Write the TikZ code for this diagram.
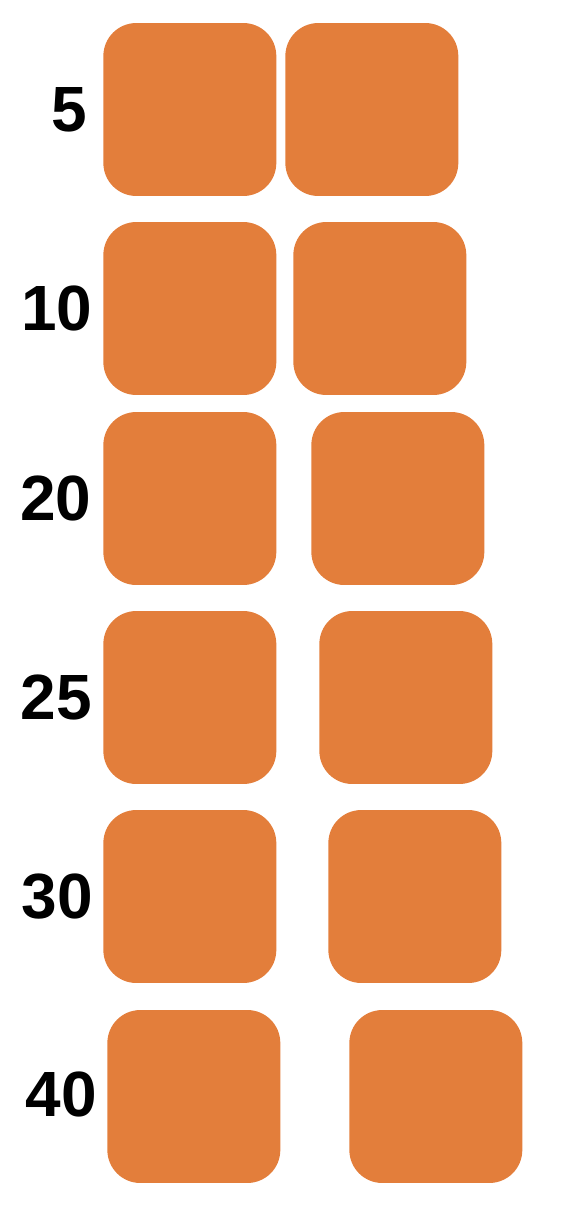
\documentclass[tikz,border=0pt]{standalone}
\usepackage{fontspec}
\setmainfont{Liberation Sans}
\usepackage{tikz}
\definecolor{tileorange}{HTML}{E37E3B}

\begin{document}
\begin{tikzpicture}[x=0.02cm,y=-0.02cm,
    tile/.style={fill=tileorange,draw=none,rounded corners=0.66cm,
      minimum width=3.46cm,minimum height=3.46cm,inner sep=0pt,anchor=west},
    lab/.style={font=\bfseries\fontsize{36.4pt}{40pt}\selectfont,inner sep=0pt}]
    \useasboundingbox (0,0) rectangle (570,1218);

    % First column: the tiles stay nearly in place.
    \node[tile] (a5)  at (103, 109.5) {};
    \node[tile] (a10) at (103, 308.5) {};
    \node[tile] (a20) at (103, 498.5) {};
    \node[tile] (a25) at (103, 697.5) {};
    \node[tile] (a30) at (103, 896.5) {};
    \node[tile] (a40) at (107,1096.5) {};

    % Second column: the gap widens row by row.
    \node[tile] (b5)  at (285, 109.5) {};
    \node[tile] (b10) at (293, 308.5) {};
    \node[tile] (b20) at (311, 498.5) {};
    \node[tile] (b25) at (319, 697.5) {};
    \node[tile] (b30) at (328, 896.5) {};
    \node[tile] (b40) at (349,1096.5) {};

    % Row labels.
    \node[lab] (l5)  at (69.0, 109.5) {5};
    \node[lab] (l10) at (57.0, 308.5) {10};
    \node[lab] (l20) at (56.0, 498.5) {20};
    \node[lab] (l25) at (56.5, 697.5) {25};
    \node[lab] (l30) at (57.5, 896.5) {30};
    \node[lab] (l40) at (61.5,1094.0) {40};
  \end{tikzpicture}
\end{document}
